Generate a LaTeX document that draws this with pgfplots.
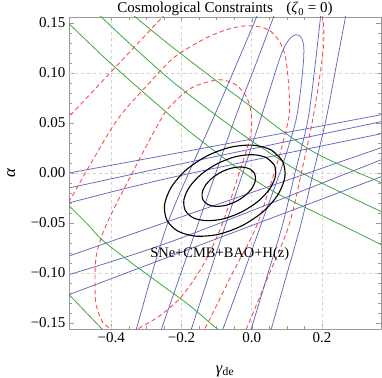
\documentclass[border=0pt]{standalone}
\usepackage{fontspec}
\setmainfont{Liberation Serif}
\usepackage{pgfplots}
\pgfplotsset{compat=1.18}
\definecolor{cgreen}{rgb}{0.24,0.66,0.24}
\definecolor{cblue}{rgb}{0.4,0.4,0.74}
\definecolor{cred}{rgb}{1,0.3,0.3}
\begin{document}
\begin{tikzpicture}
\useasboundingbox (-69pt,-48pt) rectangle (313pt,329pt);
\begin{axis}[at={(0pt,0pt)}, anchor=south west, scale only axis, width=312pt, height=312pt,
 xmin=-0.52, xmax=0.368, ymin=-0.156, ymax=0.156,
 xtick={-0.4,-0.2,0,0.2}, xticklabels={−0.4,−0.2,0.0,0.2},
 ytick={-0.15,-0.1,-0.05,0,0.05,0.1,0.15}, yticklabels={−0.15,−0.10,−0.05,0.00,0.05,0.10,0.15},
 minor x tick num=3, minor y tick num=4, grid=none,
 tick align=inside, major tick length=5pt, minor tick length=2.8pt,
 every tick/.style={gray!80}, axis line style={gray!80},
 tick label style={font=\fontsize{15}{15}\selectfont, black},
 every axis title shift=0pt,
 title={Cosmological Constraints\hspace{0.9em}(\textit{ζ}\textsubscript{0} = 0)},
 title style={font=\fontsize{15}{18}\selectfont, at={(axis description cs:0.5,1)}, anchor=base, yshift=4pt},
 xlabel={\textit{γ}\textsubscript{de}},
 xlabel style={font=\fontsize{16.5}{16.5}\selectfont, at={(axis description cs:0.5,0)}, anchor=base, yshift=-44pt},
 ylabel={\textit{α}},
 ylabel style={font=\fontsize{17}{17}\selectfont, at={(axis description cs:-0.173,0.5)}, anchor=base},
]
% grid
\addplot[gray!35, line width=0.6pt, dash pattern=on 3pt off 3pt] coordinates {(-0.4,-0.156)(-0.4,0.156)};
\addplot[gray!35, line width=0.6pt, dash pattern=on 3pt off 3pt] coordinates {(-0.2,-0.156)(-0.2,0.156)};
\addplot[gray!35, line width=0.6pt, dash pattern=on 3pt off 3pt] coordinates {(0,-0.156)(0,0.156)};
\addplot[gray!35, line width=0.6pt, dash pattern=on 3pt off 3pt] coordinates {(0.2,-0.156)(0.2,0.156)};
\addplot[gray!35, line width=0.6pt, dash pattern=on 3pt off 3pt] coordinates {(-0.52,-0.1)(0.368,-0.1)};
\addplot[gray!35, line width=0.6pt, dash pattern=on 3pt off 3pt] coordinates {(-0.52,0)(0.368,0)};
\addplot[gray!35, line width=0.6pt, dash pattern=on 3pt off 3pt] coordinates {(-0.52,0.1)(0.368,0.1)};
% red dashed
\addplot[cred, line width=0.9pt, dash pattern=on 4.5pt off 3pt, smooth] coordinates {(-0.3750,-0.1647)(-0.4006,-0.1557)(-0.4233,-0.1497)(-0.4423,-0.1327)(-0.446,-0.1117)(-0.4423,-0.0827)(-0.4139,-0.0517)(-0.3381,0.0013)(-0.2577,0.0543)(-0.2273,0.0683)(-0.1705,0.0853)(-0.0938,0.0933)(-0.0455,0.0883)(-0.017,0.0773)(-0.0043,0.0653)(0.0,0.0513)(-0.0057,0.0333)(-0.0378,-0.0024)(-0.0852,-0.0524)(-0.1392,-0.0927)(-0.1997,-0.1234)(-0.2614,-0.1427)(-0.323,-0.1557)(-0.358,-0.1637)(-0.3750,-0.1647)};
\addplot[cred, line width=0.9pt, dash pattern=on 4.5pt off 3pt, smooth] coordinates {(-0.5455,-0.0417)(-0.520,-0.0287)(-0.4517,0.0133)(-0.3807,0.0543)(-0.3011,0.0863)(-0.2216,0.1153)(-0.1335,0.1343)(-0.0625,0.1443)(-0.0057,0.1473)(0.0474,0.1433)(0.0795,0.1313)(0.0966,0.1153)(0.1051,0.0883)(0.108,0.0633)(0.1014,0.0483)(0.0739,0.0113)(0.0142,-0.0527)(-0.054,-0.0997)(-0.1335,-0.1557)(-0.1563,-0.1647)};
\addplot[cred, line width=0.9pt, dash pattern=on 4.5pt off 3pt, smooth] coordinates {(-0.5455,0.0468)(-0.520,0.0563)(-0.4318,0.0893)(-0.3438,0.1223)(-0.2528,0.1563)(-0.1903,0.1783)(-0.0625,0.2083)(0.0795,0.2133)(0.1648,0.1933)(0.2009,0.1563)(0.2045,0.1283)(0.1903,0.0883)(0.1724,0.0513)(0.144,0.0043)(0.106,-0.0524)(0.0455,-0.1047)(-0.0151,-0.1557)(-0.0284,-0.1647)};
% green
\addplot[cgreen, line width=0.8pt, smooth] coordinates {(-0.5455,0.1578)(-0.520,0.1493)(-0.4034,0.1103)(-0.2415,0.0603)(-0.1477,0.0333)(-0.0341,0.0033)(0.0682,-0.0197)(0.2577,-0.0524)(0.3693,-0.0717)(0.392,-0.0757)};
\addplot[cgreen, line width=0.8pt, smooth] coordinates {(-0.4659,0.1683)(-0.429,0.1563)(-0.3438,0.1283)(-0.2216,0.0903)(-0.0767,0.0513)(0.0284,0.0253)(0.1364,0.0013)(0.25,-0.0187)(0.3693,-0.0387)(0.3977,-0.0427)};
\addplot[cgreen, line width=0.8pt, smooth] coordinates {(-0.3693,0.1673)(-0.3324,0.1563)(-0.2273,0.1263)(-0.1051,0.0933)(-0.0057,0.0673)(0.0824,0.0433)(0.1903,0.0183)(0.3693,-0.0097)(0.3977,-0.0127)};
\addplot[cgreen, line width=0.8pt, smooth] coordinates {(-0.5455,-0.0237)(-0.520,-0.0327)(-0.4659,-0.0517)(-0.4261,-0.0667)(-0.3466,-0.0887)(-0.2614,-0.1107)(-0.1761,-0.1327)(-0.0994,-0.1557)(-0.0739,-0.1627)};
\addplot[cgreen, line width=0.8pt, smooth] coordinates {(-0.5455,-0.1127)(-0.520,-0.1217)(-0.427,-0.1557)(-0.409,-0.1627)};
% blue shallow
\addplot[cblue, line width=0.75pt, smooth] coordinates {(-0.545,-0.0016)(-0.222,0.0193)(0.39,0.0597)};
\addplot[cblue, line width=0.75pt, smooth] coordinates {(-0.545,-0.0169)(-0.222,0.0076)(0.39,0.0529)};
\addplot[cblue, line width=0.75pt, smooth] coordinates {(-0.545,-0.0322)(-0.222,-0.004)(0.39,0.0408)};
\addplot[cblue, line width=0.75pt, smooth] coordinates {(-0.545,-0.0861)(-0.248,-0.0497)(0.39,0.0279)};
\addplot[cblue, line width=0.75pt, smooth] coordinates {(-0.545,-0.1042)(-0.222,-0.0677)(0.39,0.0162)};
\addplot[cblue, line width=0.75pt, smooth] coordinates {(-0.545,-0.125)(-0.0767,-0.0627)(0.39,-0.0009)};
% blue steep
\addplot[cblue, line width=0.75pt, smooth] coordinates {(0.0341,0.1733)(0.0142,0.1563)(-0.0497,0.1033)(-0.1136,0.0513)(-0.2386,-0.0497)(-0.3281,-0.1557)(-0.3338,-0.1617)};
\addplot[cblue, line width=0.75pt, smooth] coordinates {(0.0795,0.1733)(0.0625,0.1563)(0.0057,0.1033)(-0.0511,0.0513)(-0.1514,-0.0497)(-0.2565,-0.1557)(-0.2625,-0.1617)};
\addplot[cblue, line width=0.75pt, smooth] coordinates {(-0.177,-0.1617)(-0.0724,-0.0497)(0.0227,0.0513)(0.0739,0.1083)(0.0909,0.1243)(0.108,0.1343)(0.125,0.1383)(0.1392,0.1363)(0.1477,0.1283)(0.1477,0.1133)(0.1392,0.0833)(0.125,0.0513)(0.0881,0.0083)(0.0284,-0.0497)(-0.0256,-0.1027)(-0.0881,-0.1617)};
\addplot[cblue, line width=0.75pt, smooth] coordinates {(0.2017,0.1733)(0.196,0.1563)(0.179,0.1033)(0.159,0.0513)(0.122,-0.0017)(0.0872,-0.0524)(0.0426,-0.1047)(-0.0009,-0.1557)(-0.0057,-0.1617)};
\addplot[cblue, line width=0.75pt, smooth] coordinates {(0.2756,0.1733)(0.267,0.1563)(0.2386,0.1033)(0.2102,0.0513)(0.1747,-0.0007)(0.1392,-0.0524)(0.098,-0.1037)(0.056,-0.1557)(0.0511,-0.1617)};
% black
\addplot[black, line width=1.1pt, smooth] coordinates {(0.0081,-0.0005)(-0.0057,0.0041)(-0.0285,0.0060)(-0.0569,0.0049)(-0.0866,0.0010)(-0.1131,-0.0052)(-0.1323,-0.0126)(-0.1413,-0.0203)(-0.1387,-0.0269)(-0.1249,-0.0315)(-0.1021,-0.0334)(-0.0737,-0.0323)(-0.0440,-0.0284)(-0.0175,-0.0222)(0.0017,-0.0148)(0.0107,-0.0071)(0.0081,-0.0005)(-0.0057,0.0041)};
\addplot[black, line width=1.1pt, smooth] coordinates {(0.0641,0.0080)(0.0412,0.0155)(0.0024,0.0183)(-0.0462,0.0163)(-0.0973,0.0094)(-0.1432,-0.0011)(-0.1766,-0.0137)(-0.1928,-0.0265)(-0.1891,-0.0374)(-0.1662,-0.0449)(-0.1274,-0.0477)(-0.0788,-0.0457)(-0.0277,-0.0388)(0.0182,-0.0283)(0.0516,-0.0157)(0.0678,-0.0029)(0.0641,0.0080)(0.0412,0.0155)};
\addplot[black, line width=1.1pt, smooth] coordinates {(0.0878,0.0118)(0.0560,0.0229)(0.0040,0.0278)(-0.0602,0.0258)(-0.1270,0.0171)(-0.1862,0.0032)(-0.2286,-0.0140)(-0.2480,-0.0317)(-0.2412,-0.0472)(-0.2094,-0.0583)(-0.1574,-0.0632)(-0.0932,-0.0612)(-0.0264,-0.0525)(0.0328,-0.0386)(0.0752,-0.0214)(0.0946,-0.0037)(0.0878,0.0118)(0.0560,0.0229)};
\node[font=\fontsize{14.5}{14.5}\selectfont, anchor=base] at (axis cs:-0.091,-0.0842) {SNe+CMB+BAO+H(z)};
\end{axis}
\end{tikzpicture}
\end{document}
